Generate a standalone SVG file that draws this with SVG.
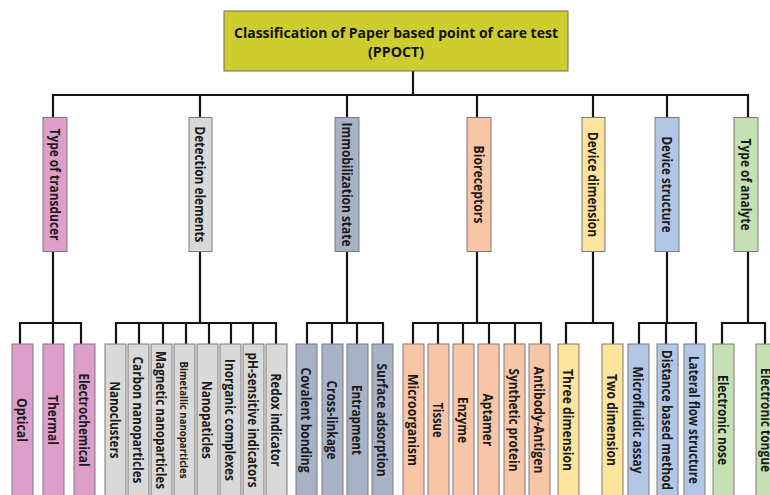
<svg xmlns="http://www.w3.org/2000/svg" width="770" height="495" viewBox="0 0 770 495">
<style>
.ln{fill:none;stroke:#141414;stroke-width:2.2;stroke-linejoin:miter}
.bx{stroke:#7a7a7a;stroke-width:1}
.pk{fill:#dd9fca}.gy{fill:#d9d9d9}.sl{fill:#a7b2c7}.sa{fill:#f8c6a7}.ye{fill:#fde49c}.lb{fill:#b2c6e6}.gr{fill:#c5e0b3}
.t{font-family:"Open Sans","Liberation Sans",sans-serif;font-size:14px;font-weight:bold;fill:#1a1a1a;text-anchor:middle;dominant-baseline:central}
.s{font-size:11px}
.h{font-family:"Open Sans","Liberation Sans",sans-serif;font-size:15px;font-weight:bold;fill:#111;text-anchor:middle}
</style>
<rect width="770" height="495" fill="#fff"/>
<g id="connectors">
<path class="ln" d="M413,71V95M53,118V95H748V118M200,95V117M347,95V118M477,95V117M593,95V117M667,95V117"/>
<path class="ln" d="M53,252V323M20,344V323H81V344M53,323V344"/>
<path class="ln" d="M200,251V323M116,344V323H276V344M139,323V344M163,323V344M186,323V344M209,323V344M231,323V344M253,323V344"/>
<path class="ln" d="M347,252V323M307,344V323H383V344M332,323V344M357,323V344"/>
<path class="ln" d="M477,251V323M413,344V323H541V344M438,323V344M463,323V344M489,323V344M515,323V344"/>
<path class="ln" d="M593,251V323M566,344V323H613V344"/>
<path class="ln" d="M667,251V323M639,344V323H696V344M666,323V344"/>
<path class="ln" d="M748,252V323M722,344V323H765V344"/>
</g>
<g id="root">
<rect x="224" y="11" width="344" height="60" fill="#cdcd30" stroke="#6f6f50" stroke-width="1"/>
<text class="h" x="396" y="38" textLength="324" lengthAdjust="spacingAndGlyphs">Classification of Paper based point of care test</text>
<text class="h" x="396" y="57" textLength="56" lengthAdjust="spacingAndGlyphs">(PPOCT)</text>
</g>
<g id="cat-transducer"><rect class="bx pk" x="43" y="117.5" width="24" height="134"/><text class="t" transform="translate(55,184.5) rotate(90)" textLength="112" lengthAdjust="spacingAndGlyphs">Type of transducer</text></g>
<g id="cat-detection"><rect class="bx gy" x="189" y="117.5" width="23" height="134"/><text class="t" transform="translate(200.5,184.5) rotate(90)" textLength="116" lengthAdjust="spacingAndGlyphs">Detection elements</text></g>
<g id="cat-immobilization"><rect class="bx sl" x="335" y="117.5" width="24" height="134"/><text class="t" transform="translate(347,184.5) rotate(90)" textLength="124" lengthAdjust="spacingAndGlyphs">Immobilization state</text></g>
<g id="cat-bioreceptors"><rect class="bx sa" x="467" y="117.5" width="24" height="134"/><text class="t" transform="translate(479,184.5) rotate(90)" textLength="78" lengthAdjust="spacingAndGlyphs">Bioreceptors</text></g>
<g id="cat-dimension"><rect class="bx ye" x="582" y="117.5" width="23" height="134"/><text class="t" transform="translate(593.5,184.5) rotate(90)" textLength="105" lengthAdjust="spacingAndGlyphs">Device dimension</text></g>
<g id="cat-structure"><rect class="bx lb" x="655" y="117.5" width="24" height="134"/><text class="t" transform="translate(667,184.5) rotate(90)" textLength="96" lengthAdjust="spacingAndGlyphs">Device structure</text></g>
<g id="cat-analyte"><rect class="bx gr" x="734" y="117.5" width="24" height="134"/><text class="t" transform="translate(746,184.5) rotate(90)" textLength="92" lengthAdjust="spacingAndGlyphs">Type of analyte</text></g>

<g id="leaf-optical"><rect class="bx pk" x="12" y="344" width="21" height="160"/><text class="t" transform="translate(22.5,420) rotate(90)" textLength="44" lengthAdjust="spacingAndGlyphs">Optical</text></g>
<g id="leaf-thermal"><rect class="bx pk" x="43" y="344" width="21" height="160"/><text class="t" transform="translate(53.5,420) rotate(90)" textLength="50" lengthAdjust="spacingAndGlyphs">Thermal</text></g>
<g id="leaf-electrochemical"><rect class="bx pk" x="74" y="344" width="21" height="160"/><text class="t" transform="translate(84.5,420) rotate(90)" textLength="93" lengthAdjust="spacingAndGlyphs">Electrochemical</text></g>

<g id="leaf-nanoclusters"><rect class="bx gy" x="105" y="344" width="21" height="160"/><text class="t" transform="translate(115.5,420) rotate(90)" textLength="77" lengthAdjust="spacingAndGlyphs">Nanoclusters</text></g>
<g id="leaf-carbon"><rect class="bx gy" x="128" y="344" width="21" height="160"/><text class="t" transform="translate(138.5,420) rotate(90)" textLength="127" lengthAdjust="spacingAndGlyphs">Carbon nanoparticles</text></g>
<g id="leaf-magnetic"><rect class="bx gy" x="151" y="344" width="21" height="160"/><text class="t" transform="translate(161.5,420) rotate(90)" textLength="138" lengthAdjust="spacingAndGlyphs">Magnetic nanoparticles</text></g>
<g id="leaf-bimetallic"><rect class="bx gy" x="174" y="344" width="21" height="160"/><text class="t s" transform="translate(184.5,420) rotate(90)" textLength="117" lengthAdjust="spacingAndGlyphs">Bimetallic nanoparticles</text></g>
<g id="leaf-nanopaticles"><rect class="bx gy" x="197" y="344" width="21" height="160"/><text class="t" transform="translate(207.5,420) rotate(90)" textLength="78" lengthAdjust="spacingAndGlyphs">Nanopaticles</text></g>
<g id="leaf-inorganic"><rect class="bx gy" x="220" y="344" width="21" height="160"/><text class="t" transform="translate(230.5,420) rotate(90)" textLength="122" lengthAdjust="spacingAndGlyphs">Inorganic complexes</text></g>
<g id="leaf-ph"><rect class="bx gy" x="243" y="344" width="21" height="160"/><text class="t" transform="translate(253.5,420) rotate(90)" textLength="135" lengthAdjust="spacingAndGlyphs">pH-sensitive indicators</text></g>
<g id="leaf-redox"><rect class="bx gy" x="266" y="344" width="21" height="160"/><text class="t" transform="translate(276.5,420) rotate(90)" textLength="93" lengthAdjust="spacingAndGlyphs">Redox indicator</text></g>

<g id="leaf-covalent"><rect class="bx sl" x="296" y="344" width="21" height="160"/><text class="t" transform="translate(306.5,420) rotate(90)" textLength="105" lengthAdjust="spacingAndGlyphs">Covalent bonding</text></g>
<g id="leaf-crosslinkage"><rect class="bx sl" x="322" y="344" width="21" height="160"/><text class="t" transform="translate(332.5,420) rotate(90)" textLength="79" lengthAdjust="spacingAndGlyphs">Cross-linkage</text></g>
<g id="leaf-entrapment"><rect class="bx sl" x="347" y="344" width="21" height="160"/><text class="t" transform="translate(357.5,420) rotate(90)" textLength="70" lengthAdjust="spacingAndGlyphs">Entrapment</text></g>
<g id="leaf-surface"><rect class="bx sl" x="372" y="344" width="21" height="160"/><text class="t" transform="translate(382.5,420) rotate(90)" textLength="113" lengthAdjust="spacingAndGlyphs">Surface adsorption</text></g>

<g id="leaf-microorganism"><rect class="bx sa" x="403" y="344" width="21" height="160"/><text class="t" transform="translate(413.5,420) rotate(90)" textLength="92" lengthAdjust="spacingAndGlyphs">Microorganism</text></g>
<g id="leaf-tissue"><rect class="bx sa" x="428" y="344" width="21" height="160"/><text class="t" transform="translate(438.5,420) rotate(90)" textLength="35" lengthAdjust="spacingAndGlyphs">Tissue</text></g>
<g id="leaf-enzyme"><rect class="bx sa" x="453" y="344" width="21" height="160"/><text class="t" transform="translate(463.5,420) rotate(90)" textLength="46" lengthAdjust="spacingAndGlyphs">Enzyme</text></g>
<g id="leaf-aptamer"><rect class="bx sa" x="478" y="344" width="21" height="160"/><text class="t" transform="translate(488.5,420) rotate(90)" textLength="53" lengthAdjust="spacingAndGlyphs">Aptamer</text></g>
<g id="leaf-synthetic"><rect class="bx sa" x="504" y="344" width="21" height="160"/><text class="t" transform="translate(514.5,420) rotate(90)" textLength="103" lengthAdjust="spacingAndGlyphs">Synthetic protein</text></g>
<g id="leaf-antibody"><rect class="bx sa" x="529" y="344" width="21" height="160"/><text class="t" transform="translate(539.5,420) rotate(90)" textLength="107" lengthAdjust="spacingAndGlyphs">Antibody-Antigen</text></g>

<g id="leaf-three"><rect class="bx ye" x="558" y="344" width="21" height="160"/><text class="t" transform="translate(568.5,420) rotate(90)" textLength="102" lengthAdjust="spacingAndGlyphs">Three dimension</text></g>
<g id="leaf-two"><rect class="bx ye" x="602" y="344" width="21" height="160"/><text class="t" transform="translate(612.5,420) rotate(90)" textLength="92" lengthAdjust="spacingAndGlyphs">Two dimension</text></g>

<g id="leaf-microfluidic"><rect class="bx lb" x="628" y="344" width="21" height="160"/><text class="t" transform="translate(638.5,420) rotate(90)" textLength="107" lengthAdjust="spacingAndGlyphs">Microfluidic assay</text></g>
<g id="leaf-distance"><rect class="bx lb" x="657" y="344" width="21" height="160"/><text class="t" transform="translate(667.5,420) rotate(90)" textLength="140" lengthAdjust="spacingAndGlyphs">Distance based method</text></g>
<g id="leaf-lateral"><rect class="bx lb" x="684" y="344" width="21" height="160"/><text class="t" transform="translate(694.5,420) rotate(90)" textLength="128" lengthAdjust="spacingAndGlyphs">Lateral flow structure</text></g>

<g id="leaf-nose"><rect class="bx gr" x="713" y="344" width="21" height="160"/><text class="t" transform="translate(723.5,420) rotate(90)" textLength="90" lengthAdjust="spacingAndGlyphs">Electronic nose</text></g>
<g id="leaf-tongue"><rect class="bx gr" x="756" y="344" width="21" height="160"/><text class="t" transform="translate(766.5,420) rotate(90)" textLength="104" lengthAdjust="spacingAndGlyphs">Electronic tongue</text></g>
</svg>
